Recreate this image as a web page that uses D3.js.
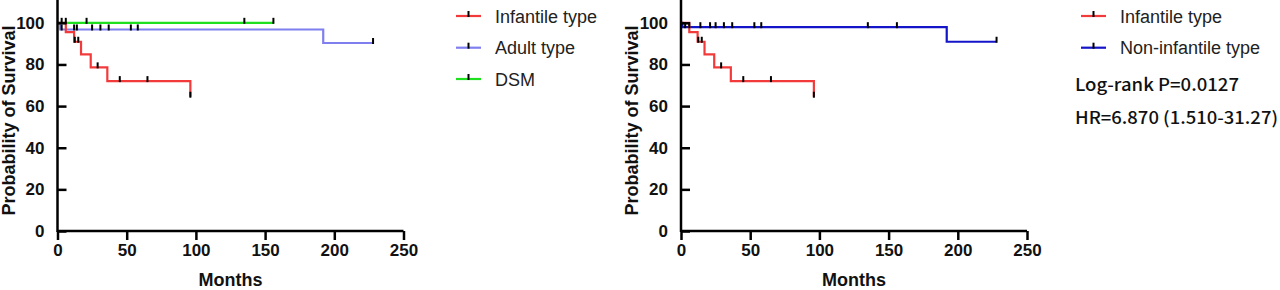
<!DOCTYPE html>
<html>
<head>
<meta charset="utf-8">
<script src="https://cdn.jsdelivr.net/npm/d3@7"></script>
<style>
  body { margin: 0; background: #fff; }
  svg { display: block; }
</style>
</head>
<body>
<svg id="chart" width="1280" height="290"></svg>
<script>
// ---------- data ----------
const xTicks = [0, 50, 100, 150, 200, 250];
const yTicks = [0, 20, 40, 60, 80, 100];

// Left panel
const infantileTimes = [0, 6, 12, 17, 24, 36, 96];
const infantileSurv = [100, 95.5, 90.9, 84.8, 78.6, 72.0, 64.5];
const infantileEnd = 96;
const infantileCensor = [12.5, 15, 29, 45, 65, 96];

const adultTimes = [0, 2, 192];
const adultSurv = [100, 96.8, 90.3];
const adultEnd = 228;
const adultCensor = [3, 12, 14, 25, 31, 37, 53, 58, 228];

const dsmTimes = [0];
const dsmSurv = [100];
const dsmEnd = 156;
const dsmCensor = [3, 6, 21, 135, 156];

// Right panel
const nonInfTimes = [0, 1, 192];
const nonInfSurv = [100, 97.9, 90.9];
const nonInfEnd = 228;
const nonInfCensor = [3, 6, 14, 21, 25, 31, 37, 53, 58, 135, 156, 228];

const leftLegend = ["Infantile type", "Adult type", "DSM"];
const rightLegend = ["Infantile type", "Non-infantile type"];
const statsText = ["Log-rank P=0.0127", "HR=6.870 (1.510-31.27)"];

const colors = { red: "#f23a3a", lavender: "#7f7ff0", green: "#1ee01e", blue: "#1414c8" };

// ---------- drawing ----------
const svg = d3.select("#chart");
const FONT = '"Liberation Sans", Arial, sans-serif';

function stepPoints(times, surv, end) {
  const pts = [];
  times.forEach((t, i) => {
    if (i > 0) pts.push([t, surv[i - 1]]);
    pts.push([t, surv[i]]);
  });
  pts.push([end, surv[surv.length - 1]]);
  return pts;
}
function survAt(times, surv, t) {
  let v = surv[0];
  for (let i = 0; i < times.length; i++) if (times[i] <= t) v = surv[i];
  return v;
}

function panel(x0, series) {
  const x = d3.scaleLinear().domain([0, 250]).range([x0, x0 + 346]);
  const y = d3.scaleLinear().domain([0, 110]).range([231, 2]);
  const g = svg.append("g");

  const line = d3.line().x(d => x(d[0])).y(d => y(d[1]));
  series.forEach(s => {
    g.append("path").attr("d", line(stepPoints(s.times, s.surv, s.end)))
      .attr("fill", "none").attr("stroke", s.color).attr("stroke-width", 2.2);
  });
  series.forEach(s => {
    g.selectAll(null).data(s.censor).join("line")
      .attr("x1", d => x(d)).attr("x2", d => x(d))
      .attr("y1", d => y(survAt(s.times, s.surv, d)) - 5)
      .attr("y2", d => y(survAt(s.times, s.surv, d)) + 1)
      .attr("stroke", "#000").attr("stroke-width", 2);
  });

  // axes
  const xAxis = d3.axisBottom(x).tickValues(xTicks).tickSize(9).tickSizeOuter(0).tickPadding(4);
  const gx = g.append("g").attr("transform", "translate(0,231)").call(xAxis);
  const yAxis = d3.axisLeft(y).tickValues(yTicks).tickSize(-9).tickSizeOuter(0).tickPadding(13);
  const gy = g.append("g").attr("transform", `translate(${x0},0)`).call(yAxis);
  [gx, gy].forEach(a => {
    a.attr("font-family", FONT).attr("font-size", 17).attr("font-weight", "bold");
    a.selectAll(".tick text").attr("fill", "#111");
    a.select(".domain").attr("stroke", "#000").attr("stroke-width", 2.5);
    a.selectAll(".tick line").attr("stroke", "#000").attr("stroke-width", 2.5);
  });
  gy.select(".domain").attr("d", `M0,${y(0) + 1}V0`);
  gx.select(".domain").attr("d", `M${x0},0H${x(250)}`);

  g.append("text").attr("transform", `translate(${x0 - 43},${(y(0) + y(110)) / 2 + 4}) rotate(-90)`)
    .attr("text-anchor", "middle").attr("font-family", FONT).attr("font-weight", "bold")
    .attr("font-size", 18).attr("fill", "#111").text("Probability of Survival");
  g.append("text").attr("x", (x(0) + x(250)) / 2).attr("y", 286)
    .attr("text-anchor", "middle").attr("font-family", FONT).attr("font-weight", "bold")
    .attr("font-size", 18).attr("fill", "#111").text("Months");
}

function legend(xLine, xText, items, cols) {
  const rowY = [16, 47.7, 79];
  items.forEach((t, i) => {
    const yy = rowY[i];
    svg.append("line").attr("x1", xLine).attr("x2", xLine + 25).attr("y1", yy).attr("y2", yy)
      .attr("stroke", cols[i]).attr("stroke-width", 2.2);
    svg.append("line").attr("x1", xLine + 12.5).attr("x2", xLine + 12.5).attr("y1", yy - 5).attr("y2", yy + 1)
      .attr("stroke", "#000").attr("stroke-width", 2);
    svg.append("text").attr("x", xText).attr("y", yy + 6.5).attr("font-family", FONT)
      .attr("font-size", 18).attr("fill", "#222").text(t);
  });
}

panel(57.5, [
  { times: dsmTimes, surv: dsmSurv, end: dsmEnd, censor: dsmCensor, color: colors.green },
  { times: adultTimes, surv: adultSurv, end: adultEnd, censor: adultCensor, color: colors.lavender },
  { times: infantileTimes, surv: infantileSurv, end: infantileEnd, censor: infantileCensor, color: colors.red }
]);
panel(681, [
  { times: nonInfTimes, surv: nonInfSurv, end: nonInfEnd, censor: nonInfCensor, color: colors.blue },
  { times: infantileTimes, surv: infantileSurv, end: infantileEnd, censor: infantileCensor, color: colors.red }
]);

legend(456, 495, leftLegend, [colors.red, colors.lavender, colors.green]);
legend(1081, 1120, rightLegend, [colors.red, colors.blue]);

const statY = [91, 124];
const statW = [164, 203];
statsText.forEach((t, i) => {
  svg.append("text").attr("x", 1075).attr("y", statY[i])
    .attr("font-family", '"Noto Sans CJK SC", "Noto Sans", sans-serif').attr("font-weight", 500)
    .attr("font-size", 17).attr("fill", "#111")
    .attr("textLength", statW[i]).attr("lengthAdjust", "spacingAndGlyphs").text(t);
});
</script>
</body>
</html>
